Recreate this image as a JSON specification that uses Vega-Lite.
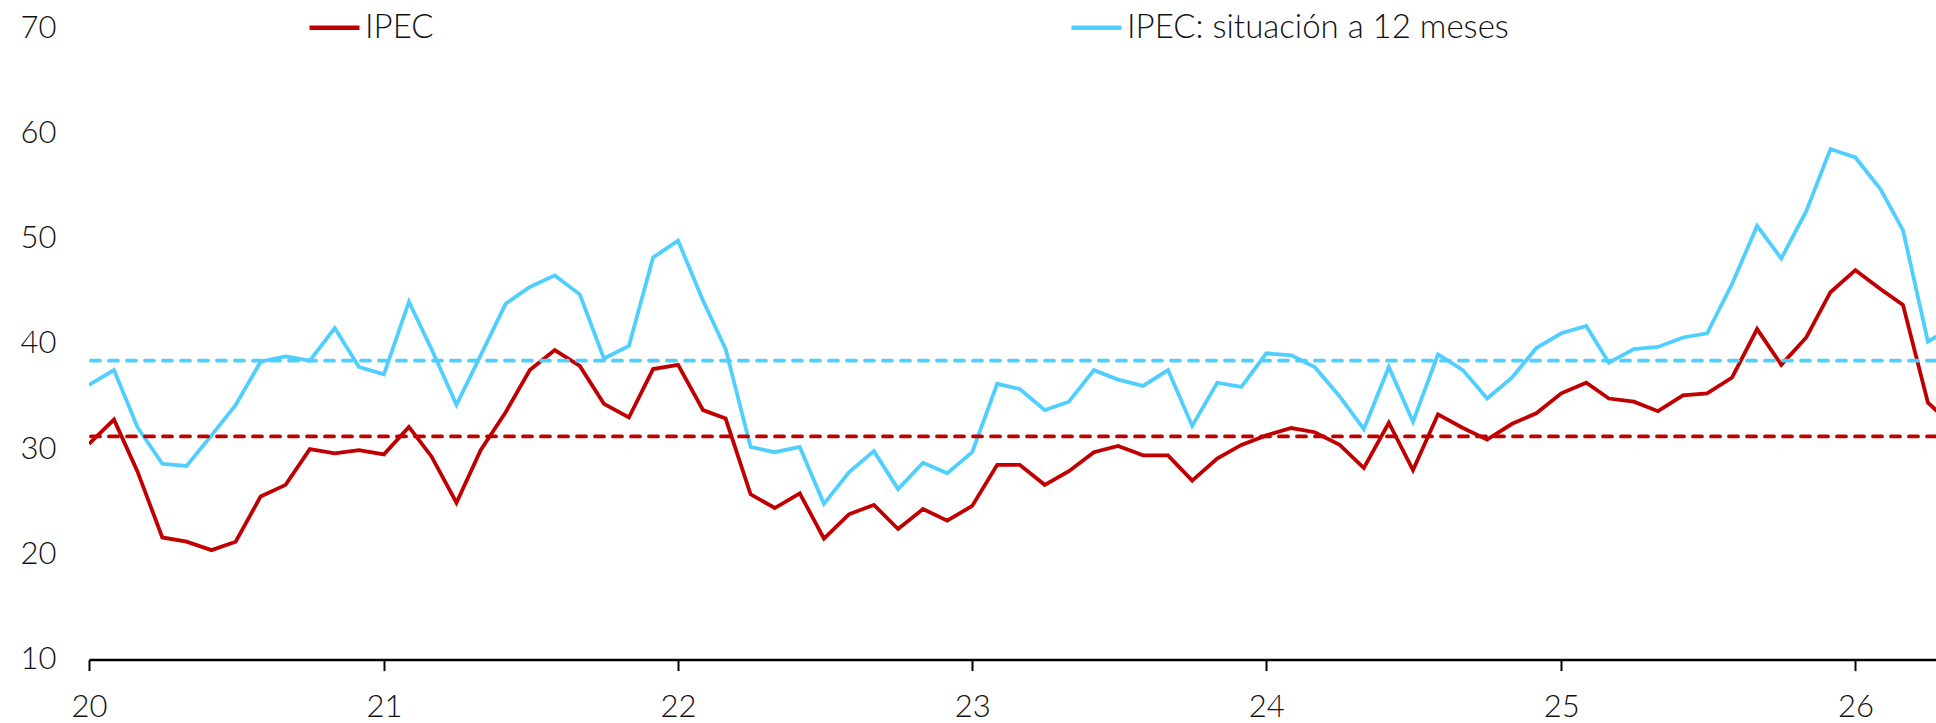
{
  "$schema": "https://vega.github.io/schema/vega-lite/v6.json",
  "width": 1847,
  "height": 631.6,
  "autosize": {"type": "none"},
  "padding": {"left": 89, "top": 28, "right": 0, "bottom": 63.4},
  "background": "white",
  "config": {"view": {"stroke": null}, "font": "Lato"},
  "datasets": {
    "ipec": [
      {"fecha": "2020-01-01", "IPEC": 30.5, "IPEC: situación a 12 meses": 36.1},
      {"fecha": "2020-02-01", "IPEC": 32.8, "IPEC: situación a 12 meses": 37.5},
      {"fecha": "2020-03-01", "IPEC": 27.9, "IPEC: situación a 12 meses": 32.1},
      {"fecha": "2020-04-01", "IPEC": 21.6, "IPEC: situación a 12 meses": 28.6},
      {"fecha": "2020-05-01", "IPEC": 21.2, "IPEC: situación a 12 meses": 28.4},
      {"fecha": "2020-06-01", "IPEC": 20.4, "IPEC: situación a 12 meses": 31.3},
      {"fecha": "2020-07-01", "IPEC": 21.2, "IPEC: situación a 12 meses": 34.2},
      {"fecha": "2020-08-01", "IPEC": 25.5, "IPEC: situación a 12 meses": 38.3},
      {"fecha": "2020-09-01", "IPEC": 26.6, "IPEC: situación a 12 meses": 38.8},
      {"fecha": "2020-10-01", "IPEC": 30.0, "IPEC: situación a 12 meses": 38.4},
      {"fecha": "2020-11-01", "IPEC": 29.6, "IPEC: situación a 12 meses": 41.5},
      {"fecha": "2020-12-01", "IPEC": 29.9, "IPEC: situación a 12 meses": 37.8},
      {"fecha": "2021-01-01", "IPEC": 29.5, "IPEC: situación a 12 meses": 37.1},
      {"fecha": "2021-02-01", "IPEC": 32.1, "IPEC: situación a 12 meses": 44.0},
      {"fecha": "2021-03-01", "IPEC": 29.3, "IPEC: situación a 12 meses": 39.5},
      {"fecha": "2021-04-01", "IPEC": 24.9, "IPEC: situación a 12 meses": 34.2},
      {"fecha": "2021-05-01", "IPEC": 29.9, "IPEC: situación a 12 meses": 38.9},
      {"fecha": "2021-06-01", "IPEC": 33.5, "IPEC: situación a 12 meses": 43.8},
      {"fecha": "2021-07-01", "IPEC": 37.5, "IPEC: situación a 12 meses": 45.4},
      {"fecha": "2021-08-01", "IPEC": 39.4, "IPEC: situación a 12 meses": 46.5},
      {"fecha": "2021-09-01", "IPEC": 37.9, "IPEC: situación a 12 meses": 44.7},
      {"fecha": "2021-10-01", "IPEC": 34.3, "IPEC: situación a 12 meses": 38.6},
      {"fecha": "2021-11-01", "IPEC": 33.0, "IPEC: situación a 12 meses": 39.8},
      {"fecha": "2021-12-01", "IPEC": 37.6, "IPEC: situación a 12 meses": 48.2},
      {"fecha": "2022-01-01", "IPEC": 38.0, "IPEC: situación a 12 meses": 49.8},
      {"fecha": "2022-02-01", "IPEC": 33.7, "IPEC: situación a 12 meses": 44.1},
      {"fecha": "2022-03-01", "IPEC": 32.9, "IPEC: situación a 12 meses": 39.5},
      {"fecha": "2022-04-01", "IPEC": 25.7, "IPEC: situación a 12 meses": 30.2},
      {"fecha": "2022-05-01", "IPEC": 24.4, "IPEC: situación a 12 meses": 29.7},
      {"fecha": "2022-06-01", "IPEC": 25.8, "IPEC: situación a 12 meses": 30.2},
      {"fecha": "2022-07-01", "IPEC": 21.5, "IPEC: situación a 12 meses": 24.8},
      {"fecha": "2022-08-01", "IPEC": 23.8, "IPEC: situación a 12 meses": 27.8},
      {"fecha": "2022-09-01", "IPEC": 24.7, "IPEC: situación a 12 meses": 29.8},
      {"fecha": "2022-10-01", "IPEC": 22.4, "IPEC: situación a 12 meses": 26.2},
      {"fecha": "2022-11-01", "IPEC": 24.3, "IPEC: situación a 12 meses": 28.7},
      {"fecha": "2022-12-01", "IPEC": 23.2, "IPEC: situación a 12 meses": 27.7},
      {"fecha": "2023-01-01", "IPEC": 24.6, "IPEC: situación a 12 meses": 29.7},
      {"fecha": "2023-02-01", "IPEC": 28.5, "IPEC: situación a 12 meses": 36.2},
      {"fecha": "2023-03-01", "IPEC": 28.5, "IPEC: situación a 12 meses": 35.7},
      {"fecha": "2023-04-01", "IPEC": 26.6, "IPEC: situación a 12 meses": 33.7},
      {"fecha": "2023-05-01", "IPEC": 27.9, "IPEC: situación a 12 meses": 34.5},
      {"fecha": "2023-06-01", "IPEC": 29.7, "IPEC: situación a 12 meses": 37.5},
      {"fecha": "2023-07-01", "IPEC": 30.3, "IPEC: situación a 12 meses": 36.6},
      {"fecha": "2023-08-01", "IPEC": 29.4, "IPEC: situación a 12 meses": 36.0},
      {"fecha": "2023-09-01", "IPEC": 29.4, "IPEC: situación a 12 meses": 37.5},
      {"fecha": "2023-10-01", "IPEC": 27.0, "IPEC: situación a 12 meses": 32.2},
      {"fecha": "2023-11-01", "IPEC": 29.1, "IPEC: situación a 12 meses": 36.3},
      {"fecha": "2023-12-01", "IPEC": 30.4, "IPEC: situación a 12 meses": 35.9},
      {"fecha": "2024-01-01", "IPEC": 31.3, "IPEC: situación a 12 meses": 39.1},
      {"fecha": "2024-02-01", "IPEC": 32.0, "IPEC: situación a 12 meses": 38.9},
      {"fecha": "2024-03-01", "IPEC": 31.6, "IPEC: situación a 12 meses": 37.8},
      {"fecha": "2024-04-01", "IPEC": 30.4, "IPEC: situación a 12 meses": 35.0},
      {"fecha": "2024-05-01", "IPEC": 28.2, "IPEC: situación a 12 meses": 31.9},
      {"fecha": "2024-06-01", "IPEC": 32.5, "IPEC: situación a 12 meses": 37.8},
      {"fecha": "2024-07-01", "IPEC": 28.0, "IPEC: situación a 12 meses": 32.6},
      {"fecha": "2024-08-01", "IPEC": 33.3, "IPEC: situación a 12 meses": 39.0},
      {"fecha": "2024-09-01", "IPEC": 32.0, "IPEC: situación a 12 meses": 37.5},
      {"fecha": "2024-10-01", "IPEC": 30.9, "IPEC: situación a 12 meses": 34.8},
      {"fecha": "2024-11-01", "IPEC": 32.4, "IPEC: situación a 12 meses": 36.8},
      {"fecha": "2024-12-01", "IPEC": 33.4, "IPEC: situación a 12 meses": 39.6},
      {"fecha": "2025-01-01", "IPEC": 35.3, "IPEC: situación a 12 meses": 41.0},
      {"fecha": "2025-02-01", "IPEC": 36.3, "IPEC: situación a 12 meses": 41.7},
      {"fecha": "2025-03-01", "IPEC": 34.8, "IPEC: situación a 12 meses": 38.2},
      {"fecha": "2025-04-01", "IPEC": 34.5, "IPEC: situación a 12 meses": 39.5},
      {"fecha": "2025-05-01", "IPEC": 33.6, "IPEC: situación a 12 meses": 39.7},
      {"fecha": "2025-06-01", "IPEC": 35.1, "IPEC: situación a 12 meses": 40.6},
      {"fecha": "2025-07-01", "IPEC": 35.3, "IPEC: situación a 12 meses": 41.0},
      {"fecha": "2025-08-01", "IPEC": 36.8, "IPEC: situación a 12 meses": 45.7},
      {"fecha": "2025-09-01", "IPEC": 41.4, "IPEC: situación a 12 meses": 51.2},
      {"fecha": "2025-10-01", "IPEC": 38.0, "IPEC: situación a 12 meses": 48.1},
      {"fecha": "2025-11-01", "IPEC": 40.6, "IPEC: situación a 12 meses": 52.6},
      {"fecha": "2025-12-01", "IPEC": 44.9, "IPEC: situación a 12 meses": 58.5},
      {"fecha": "2026-01-01", "IPEC": 47.0, "IPEC: situación a 12 meses": 57.7},
      {"fecha": "2026-02-01", "IPEC": 45.2, "IPEC: situación a 12 meses": 54.7},
      {"fecha": "2026-03-01", "IPEC": 43.7, "IPEC: situación a 12 meses": 50.8},
      {"fecha": "2026-04-01", "IPEC": 34.4, "IPEC: situación a 12 meses": 40.2},
      {"fecha": "2026-05-01", "IPEC": 32.3, "IPEC: situación a 12 meses": 41.6}
    ],
    "medias": [
      {"serie": "IPEC", "media": 31.2},
      {"serie": "IPEC: situación a 12 meses", "media": 38.4}
    ]
  },
  "layer": [
    {
      "data": {"name": "ipec"},
      "transform": [{"fold": ["IPEC: situación a 12 meses", "IPEC"], "as": ["serie", "valor"]}],
      "mark": {"type": "line", "strokeWidth": 3.8, "clip": true},
      "encoding": {
        "x": {
          "field": "fecha", "type": "temporal",
          "scale": {"type": "utc", "nice": false,
            "domain": [{"year": 2020, "month": 1, "date": 1, "utc": true}, {"year": 2026, "month": 4, "date": 11, "utc": true}]},
          "axis": {
            "title": null, "format": "%y",
            "values": [
              {"year": 2020, "month": 1, "date": 1, "utc": true},
              {"year": 2021, "month": 1, "date": 1, "utc": true},
              {"year": 2022, "month": 1, "date": 1, "utc": true},
              {"year": 2023, "month": 1, "date": 1, "utc": true},
              {"year": 2024, "month": 1, "date": 1, "utc": true},
              {"year": 2025, "month": 1, "date": 1, "utc": true},
              {"year": 2026, "month": 1, "date": 1, "utc": true}
            ],
            "grid": false, "domain": true, "domainColor": "#000000", "domainWidth": 2.5,
            "ticks": true, "tickColor": "#000000", "tickWidth": 2, "tickSize": 11,
            "labelFont": "Lato", "labelFontWeight": 300, "labelFontSize": 31, "labelColor": "#111111",
            "labelPadding": 22, "labelFlush": false, "labelOverlap": false
          }
        },
        "y": {
          "field": "valor", "type": "quantitative",
          "scale": {"domain": [10, 70], "nice": false, "zero": false},
          "axis": {
            "title": null, "values": [10, 20, 30, 40, 50, 60, 70],
            "grid": false, "domain": false, "ticks": false, "tickSize": 0,
            "labelFont": "Lato", "labelFontWeight": 300, "labelFontSize": 31, "labelColor": "#111111",
            "labelPadding": 33, "labelFlush": false, "labelOverlap": false
          }
        },
        "color": {
          "field": "serie", "type": "nominal",
          "scale": {"domain": ["IPEC", "IPEC: situación a 12 meses"], "range": ["#C00000", "#4FCFFF"]},
          "legend": {
            "title": null, "orient": "none", "legendX": 218, "legendY": -28,
            "direction": "horizontal", "columns": 2, "columnPadding": 628,
            "symbolType": "stroke", "symbolStrokeWidth": 4.5, "symbolSize": 2500,
            "labelFont": "Lato", "labelFontWeight": 300, "labelFontSize": 33, "labelColor": "#111111",
            "labelOffset": 3, "padding": 0, "labelLimit": 0
          }
        }
      }
    },
    {
      "data": {"name": "medias"},
      "transform": [{"filter": "datum.serie == 'IPEC'"}],
      "mark": {"type": "rule", "color": "#C00000", "strokeWidth": 3.8, "strokeDash": [9, 9], "strokeCap": "round"},
      "encoding": {"y": {"field": "media", "type": "quantitative"}}
    },
    {
      "data": {"name": "medias"},
      "transform": [{"filter": "datum.serie != 'IPEC'"}],
      "mark": {"type": "rule", "color": "#4FCFFF", "strokeWidth": 3.8, "strokeDash": [9, 9], "strokeCap": "round"},
      "encoding": {"y": {"field": "media", "type": "quantitative"}}
    }
  ]
}
